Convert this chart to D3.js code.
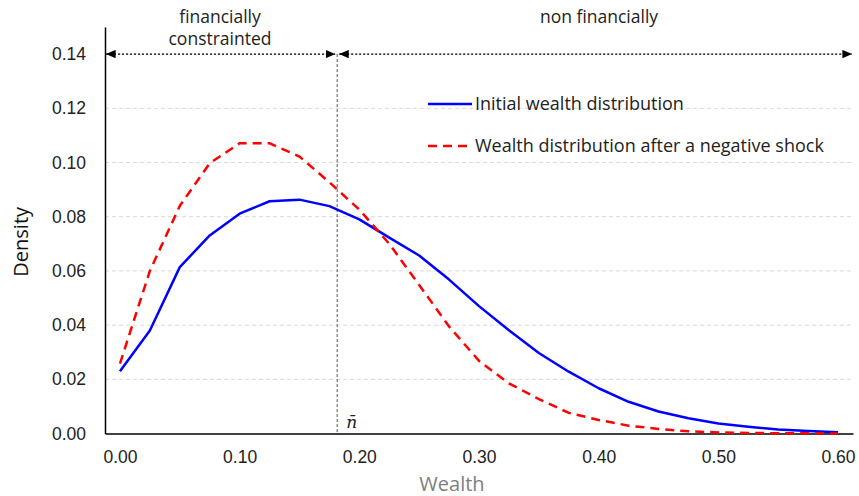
<!doctype html>
<html>
  <head>
    <script src="https://cdn.jsdelivr.net/npm/d3@7/dist/d3.min.js"></script>
    <style>
      body {
          margin: 0;
          background: #fff;
          font-family: "Open Sans", sans-serif;
      }
      .tick text {
          font-size: 17.5px;
          fill: #222;
      }
      .grid line {
          stroke: #d9d9d9;
          stroke-dasharray: 4,3;
      }
    </style>
  </head>
  <body>
    <script>
      // data
      var wealth = [0, 0.025, 0.05, 0.075, 0.10, 0.125, 0.15, 0.175, 0.20, 0.225, 0.25, 0.275, 0.30,
                    0.325, 0.35, 0.375, 0.40, 0.425, 0.45, 0.475, 0.50, 0.525, 0.55, 0.575, 0.60];
      var initial = [0.023, 0.038, 0.0614, 0.0731, 0.0811, 0.0857, 0.0863, 0.0839, 0.079, 0.0723, 0.0657, 0.0568, 0.047,
                     0.0381, 0.0297, 0.0228, 0.0167, 0.0117, 0.0081, 0.0056, 0.0037, 0.0025, 0.0015, 0.0009, 0.0005];
      var afterShock = [0.0258, 0.060, 0.084, 0.0997, 0.1071, 0.1071, 0.1022, 0.0927, 0.0826, 0.070, 0.0548, 0.0395, 0.0268,
                        0.0185, 0.0127, 0.0076, 0.005, 0.0029, 0.0017, 0.0008, 0.0004, 0.0002, 0.0001, 0.0001, 0.0];
      var xTicks = [0, 0.1, 0.2, 0.3, 0.4, 0.5, 0.6];
      var yTicks = [0, 0.02, 0.04, 0.06, 0.08, 0.10, 0.12, 0.14];
      var nBar = 0.1815;
      var legendLabels = ["Initial wealth distribution", "Wealth distribution after a negative shock"];
      var regionLabels = [["financially", "constrainted"], ["non financially"]];

      var W = 859, H = 496;
      var margin = {top: 27, right: 6, bottom: 62.5, left: 105};
      var width = W - margin.left - margin.right, height = H - margin.top - margin.bottom;

      var svg = d3.select("body").append("svg")
          .attr("width", W).attr("height", H);

      var defs = svg.append("defs");
      defs.append("marker")
          .attr("id", "arrow")
          .attr("viewBox", "0 0 10 10")
          .attr("refX", 10).attr("refY", 5)
          .attr("markerWidth", 8).attr("markerHeight", 7)
          .attr("markerUnits", "strokeWidth")
          .attr("orient", "auto-start-reverse")
          .attr("preserveAspectRatio", "none")
        .append("path")
          .attr("d", "M0,0 L10,5 L0,10 Z")
          .attr("fill", "#000");

      var g = svg.append("g").attr("transform", `translate(${margin.left},${margin.top})`);

      var x = d3.scaleLinear().domain([-0.0125, 0.6125]).range([0, width]);
      var y = d3.scaleLinear().domain([0, 0.15]).range([height, 0]);

      // gridlines
      g.append("g").attr("class", "grid")
          .selectAll("line").data(yTicks.slice(1)).enter().append("line")
          .attr("x1", 0).attr("x2", width)
          .attr("y1", d => y(d)).attr("y2", d => y(d));

      // y axis
      var yAxis = g.append("g")
          .call(d3.axisLeft(y).tickValues(yTicks).tickFormat(d3.format(".2f")).tickSize(0).tickPadding(19));
      yAxis.select(".domain").attr("stroke", "#000").attr("stroke-width", 1.5);

      // x axis
      var xAxis = g.append("g")
          .attr("transform", `translate(0,${height})`)
          .call(d3.axisBottom(x).tickValues(xTicks).tickFormat(d3.format(".2f")).tickSize(0).tickPadding(17));
      xAxis.select(".domain").attr("stroke", "#000").attr("stroke-width", 1.5);

      // n bar vertical line
      g.append("line")
          .attr("x1", x(nBar)).attr("x2", x(nBar))
          .attr("y1", y(0.14)).attr("y2", height)
          .attr("stroke", "#555").attr("stroke-width", 1)
          .attr("stroke-dasharray", "3,2");

      g.append("text")
          .attr("x", x(nBar) + 9).attr("y", height - 6)
          .attr("font-family", "'DejaVu Serif', serif")
          .attr("font-style", "italic")
          .attr("font-size", 17)
          .attr("fill", "#222")
          .text("n\u0304");

      // region arrows
      var arrows = [[0, x(nBar) - 1], [x(nBar) + 1, width]];
      arrows.forEach(function(a){
          g.append("line")
              .attr("x1", a[0] + 1).attr("x2", a[1] - 1)
              .attr("y1", y(0.14)).attr("y2", y(0.14))
              .attr("stroke", "#000").attr("stroke-width", 1.2)
              .attr("stroke-dasharray", "2,2")
              .attr("marker-start", "url(#arrow)")
              .attr("marker-end", "url(#arrow)");
      });

      regionLabels.forEach(function(lines, i){
          var cx = i == 0 ? 220 - margin.left : 599 - margin.left;
          lines.forEach(function(t, j){
              g.append("text")
                  .attr("x", cx).attr("y", 23 - margin.top + j * 22)
                  .attr("text-anchor", "middle")
                  .attr("font-size", 17.5)
                  .attr("fill", "#222")
                  .text(t);
          });
      });

      // lines
      var line = d3.line().x((d, i) => x(wealth[i])).y(d => y(d));

      g.append("path").datum(initial)
          .attr("fill", "none").attr("stroke", "#0000ff")
          .attr("stroke-width", 2.5).attr("stroke-linejoin", "round")
          .attr("d", line);

      g.append("path").datum(afterShock)
          .attr("fill", "none").attr("stroke", "#ff0000")
          .attr("stroke-width", 2.5)
          .attr("stroke-dasharray", "9,6")
          .attr("d", line);

      // legend
      var legend = g.append("g").attr("transform", `translate(${428 - margin.left},${104 - margin.top})`);
      legendLabels.forEach(function(t, i){
          var row = legend.append("g").attr("transform", `translate(0,${i * 42})`);
          row.append("line")
              .attr("x1", 0).attr("x2", 44)
              .attr("stroke", i == 0 ? "#0000ff" : "#ff0000")
              .attr("stroke-width", 2.5)
              .attr("stroke-dasharray", i == 0 ? null : "9,6");
          row.append("text")
              .attr("x", 47).attr("dy", "0.35em")
              .attr("font-size", 18)
              .attr("fill", "#222")
              .text(t);
      });

      // axis titles
      svg.append("text")
          .attr("transform", `translate(28,${margin.top + y(0.07) - 2}) rotate(-90)`)
          .attr("text-anchor", "middle")
          .attr("font-size", 20)
          .attr("fill", "#111")
          .text("Density");

      svg.append("text")
          .attr("x", 452).attr("y", 491)
          .attr("text-anchor", "middle")
          .attr("font-size", 20)
          .attr("fill", "#808080")
          .text("Wealth");
    </script>
  </body>
</html>
